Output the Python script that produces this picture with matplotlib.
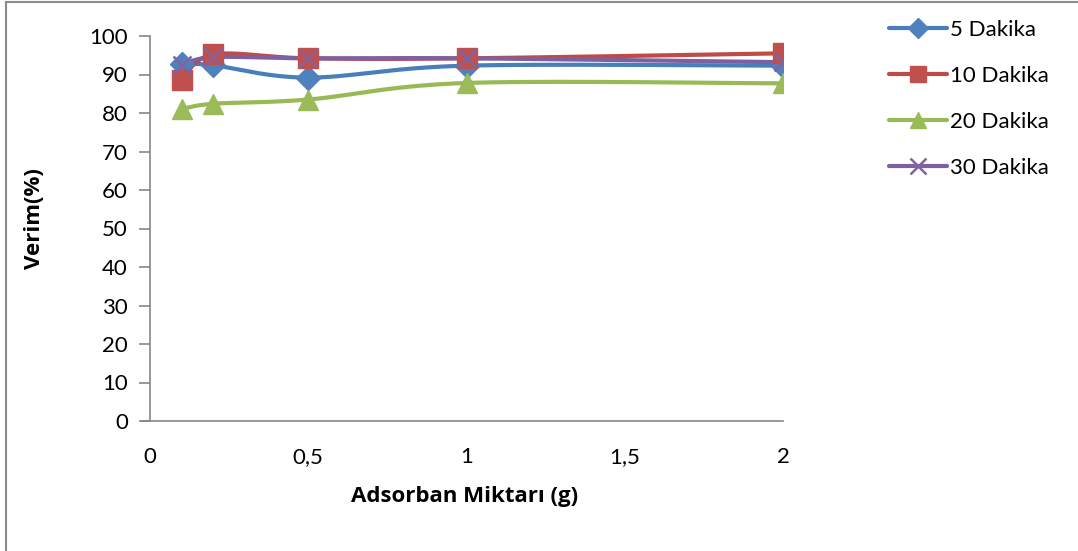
import numpy as np
import matplotlib
matplotlib.use('Agg')
import matplotlib.pyplot as plt
from matplotlib.lines import Line2D

plt.rcParams['font.family'] = ['Lato', 'DejaVu Sans']

# data
x_vals = [0.1, 0.2, 0.5, 1, 2]
labels = ['5 Dakika', '10 Dakika', '20 Dakika', '30 Dakika']
dk5 = [92.8, 92.4, 89.2, 92.3, 92.3]
dk10 = [88.6, 95.2, 94.2, 94.2, 95.5]
dk20 = [81.0, 82.4, 83.5, 87.8, 87.7]
dk30 = [92.4, 94.5, 94.2, 94.2, 93.2]

line_colors = ['#4A7EBB', '#BE4B48', '#98B954', '#7D60A0']
marker_colors = ['#4F81BD', '#C0504D', '#9BBB59', '#8064A2']
markers = ['D', 's', '^', 'x']
msizes = [12, 14, 14, 13]

FS = 16


def smooth(xs, ys, n=40):
    # excel-like smoothed line: catmull-rom style bezier segments
    p = np.column_stack([xs, ys]).astype(float)
    p = np.vstack([p[0], p, p[-1]])
    out = []
    t = np.linspace(0, 1, n)[:, None]
    for i in range(1, len(p) - 2):
        p0, p3 = p[i], p[i + 1]
        c1 = p0 + (p[i + 1] - p[i - 1]) / 6
        c2 = p3 - (p[i + 2] - p[i]) / 6
        seg = ((1 - t) ** 3) * p0 + 3 * ((1 - t) ** 2) * t * c1 + 3 * (1 - t) * t ** 2 * c2 + t ** 3 * p3
        out.append(seg)
    out = np.vstack(out)
    return out[:, 0], out[:, 1]


fig = plt.figure(figsize=(10.78, 5.51), dpi=100)
ax = fig.add_axes([150 / 1078, 1 - 421 / 551, (783 - 150) / 1078, (421 - 36) / 551])

handles = []
for ys, lc, mc, mk, ms in zip([dk5, dk10, dk20, dk30], line_colors, marker_colors, markers, msizes):
    sx, sy = smooth(x_vals, ys)
    ax.plot(sx, sy, color=lc, lw=3, solid_capstyle='round', zorder=2)
    if mk == 'x':
        ax.plot(x_vals, ys, ls='none', marker=mk, ms=ms, mew=1.8, color=mc, zorder=3)
    else:
        ax.plot(x_vals, ys, ls='none', marker=mk, ms=ms, mfc=mc, mec=mc, zorder=3)
    handles.append(Line2D([], [], color=lc, lw=3, solid_capstyle='round', marker=mk,
                          ms=ms - 2, mfc=mc, mec=mc, mew=1.8 if mk == 'x' else 1))

ax.set_xlim(0, 2)
ax.set_ylim(0, 100)
ax.set_xticks([0, 0.5, 1, 1.5, 2])
ax.set_xticklabels(['0', '0,5', '1', '1,5', '2'])
ax.set_yticks(range(0, 101, 10))

for s in ['top', 'right']:
    ax.spines[s].set_visible(False)
for s in ['left', 'bottom']:
    ax.spines[s].set_color('#868686')
    ax.spines[s].set_linewidth(1.2)
ax.spines['bottom'].set_bounds(-0.025, 2)

ax.tick_params(axis='y', length=8, width=1.2, color='#868686', pad=8, labelsize=FS)
ax.tick_params(axis='x', length=0, pad=19, labelsize=FS)

ax.set_xlabel('Adsorban Miktarı (g)', fontsize=16, fontweight='bold', family='Open Sans', va='center')
ax.set_ylabel('Verim(%)', fontsize=16, fontweight='bold', family='Open Sans', va='center')
ax.xaxis.set_label_coords(0.497, -0.197)
ax.yaxis.set_label_coords(-0.182, 0.527)

fig.legend(handles, labels, loc='upper left', bbox_to_anchor=(880 / 1078, 1 - 11 / 551),
           frameon=False, fontsize=FS, handlelength=2.6, handletextpad=0.15,
           labelspacing=1.17, borderaxespad=0)

# outer chart border (top and left edges visible)
fig.add_artist(Line2D([6 / 1078, 1], [1 - 2 / 551, 1 - 2 / 551], color='#8a8a8a', lw=1.5))
fig.add_artist(Line2D([6 / 1078, 6 / 1078], [0, 1 - 2 / 551], color='#8a8a8a', lw=1.5))

fig.savefig('out.png', dpi=100)
